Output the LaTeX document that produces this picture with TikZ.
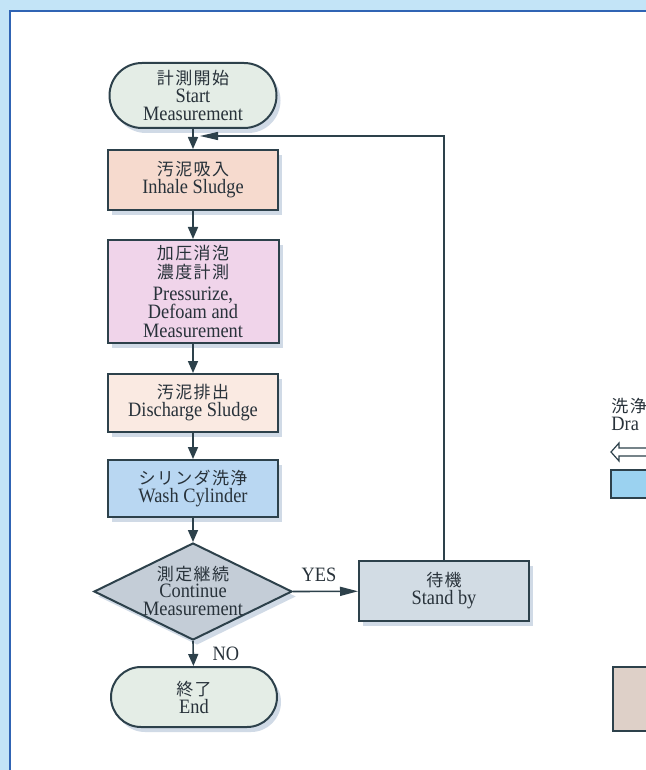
\documentclass[tikz,border=0pt]{standalone}
\usepackage{fontspec}
\setmainfont{Liberation Serif}[FakeStretch=0.9]
\newfontfamily\jpfont[LetterSpace=8]{Noto Sans CJK JP}
\usepackage{xcolor}
\usetikzlibrary{
  shapes.misc,
  shapes.geometric,
  arrows.meta,
  shadows
}

\definecolor{outerc}{RGB}{195,228,247}
\definecolor{framec}{RGB}{48,100,180}
\definecolor{linec}{RGB}{45,65,75}
\definecolor{textc}{RGB}{40,50,58}
\definecolor{shadowc}{RGB}{208,218,230}
\definecolor{termc}{RGB}{228,237,230}
\definecolor{inhalec}{RGB}{246,218,206}
\definecolor{pressc}{RGB}{240,212,234}
\definecolor{dischc}{RGB}{250,234,226}
\definecolor{washc}{RGB}{185,215,242}
\definecolor{decc}{RGB}{196,205,215}
\definecolor{standc}{RGB}{210,220,228}
\definecolor{drainc}{RGB}{155,210,240}
\definecolor{taupec}{RGB}{222,208,200}

\newcommand{\boxfont}{\fontsize{10.2}{8.4}\selectfont\lineskiplimit=-20pt\lineskip=0pt}
\newcommand{\jp}{\jpfont\fontsize{8.5}{8.4}\selectfont}

\begin{document}
\begin{tikzpicture}[%ピクセル座標(y は下向き)
        x=0.5pt,y=-0.5pt,
        box/.style={
            draw=linec,
            line width=1pt,
            inner sep=0pt,
            align=center,
            text=textc,
            font=\boxfont,
            drop shadow={
                shadow xshift=2pt,
                shadow yshift=-2.5pt,
                fill=shadowc,
                opacity=1
              }
          },term/.style={
            box,
            rounded rectangle,
            fill=termc
          },dec/.style={
            box,
            diamond
          },flow/.style={
            draw=linec,
            line width=0.8pt,
            -{Triangle[length=6pt,width=5pt]}
          },longflow/.style={
            flow,
            -{Triangle[length=9pt,width=4.5pt]}
          },lbl/.style={
            text=textc,
            font=\boxfont
          }
      ]

      % 背景と枠
      \useasboundingbox (0,0) rectangle (646,770);
      \clip (0,0) rectangle (646,770);
      \fill[outerc] (0,0) rectangle (646,770);
      \draw[framec,line width=1pt,fill=white] (9.5,11.5) rectangle (680,800);

      % ノードの配置
      \node[term,minimum width=83.5pt,minimum height=32.5pt] (start) at (193,95.5)
        {{\jp 計測開始}\\[0.4pt]Start\\[0.8pt]Measurement};
      \node[box,fill=inhalec,minimum width=85pt,minimum height=30pt] (inhale) at (193,180)
        {{\jp 汚泥吸入}\\[0.6pt]Inhale Sludge};
      \node[box,fill=pressc,minimum width=85.5pt,minimum height=51.5pt] (press) at (193,291.5)
        {{\jp 加圧消泡}\\[1.1pt]{\jp 濃度計測}\\[2.2pt]Pressurize,\\[1pt]Defoam and\\[0.8pt]Measurement};
      \node[box,fill=dischc,minimum width=85pt,minimum height=29pt] (disch) at (193,403)
        {{\jp 汚泥排出}\\[0.6pt]Discharge Sludge};
      \node[box,fill=washc,minimum width=85pt,minimum height=28.5pt] (wash) at (193,488.5)
        {{\jp シリンダ洗浄}\\[0.6pt]Wash Cylinder};
      \node[dec,fill=decc,minimum width=99pt,minimum height=48.5pt] (cont) at (193,591.5) {};
      \node[lbl,align=center,inner sep=0pt] (conttxt) at (193,591)
        {{\jp 測定継続}\\[0.2pt]Continue\\[0.6pt]Measurement};
      \node[box,fill=standc,minimum width=85pt,minimum height=30pt] (stand) at (444,591)
        {{\jp 待機}\\[0.6pt]Stand by};
      \node[term,minimum width=83pt,minimum height=30pt] (stop) at (194,697)
        {{\jp 終了}\\[0.6pt]End};

      % 右端で切れている部分
      \node[lbl,anchor=north west,align=left,inner sep=0pt] (drainlbl) at (611,398)
        {{\jp 洗浄}\\[0.6pt]Dra};
      \draw[linec,line width=0.6pt,fill=white]
        (611,452) -- (619,443) -- (619,448) -- (660,448)
        -- (660,456) -- (619,456) -- (619,461) -- cycle;
      \draw[linec,line width=1pt,fill=drainc] (611,470) rectangle (660,498);
      \draw[linec,line width=1pt,fill=taupec] (613,667) rectangle (660,731);

      % 流れ
      \draw[flow] (start) -- (inhale);
      \draw[flow] (inhale) -- (press);
      \draw[flow] (press) -- (disch);
      \draw[flow] (disch) -- (wash);
      \draw[flow] (wash) -- (cont.north);
      \draw[flow] (cont.south) -- (stop) node[midway,right=6pt,lbl] {NO};
      \draw[longflow] (cont.east) -- (stand) node[pos=.4,above=1pt,lbl] {YES};

      % 戻り経路
      \coordinate (back) at (200,136);
      \draw[
        draw=linec,
        line width=0.6pt,
        -{Triangle[length=9pt,width=4pt]}
      ] (stand.north) |- (back);

    \end{tikzpicture}
\end{document}
